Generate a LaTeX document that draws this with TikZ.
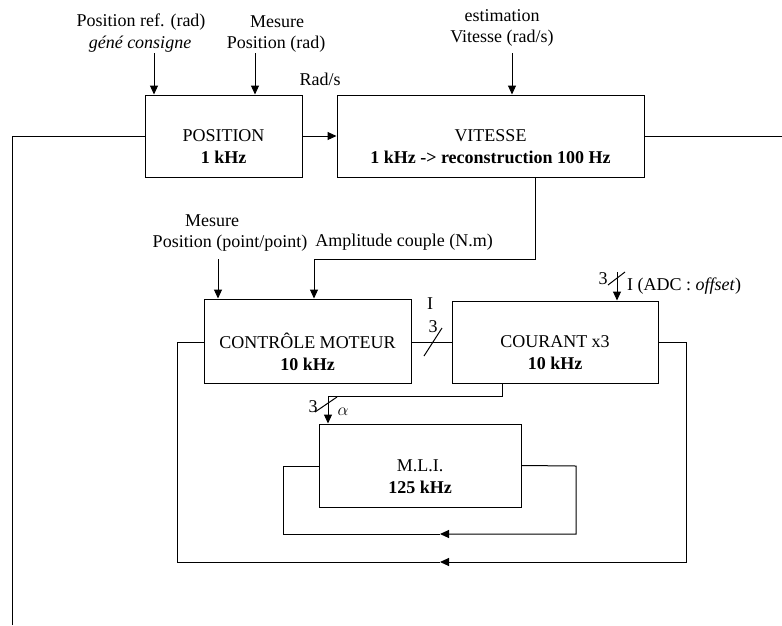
\documentclass[tikz,border=0pt]{standalone}
\usepackage{fontspec}
\setmainfont{Liberation Serif}
\usetikzlibrary{arrows.meta}
\begin{document}
\begin{tikzpicture}[x=1pt,y=-1pt,
  every node/.style={font=\fontsize{18}{22}\selectfont, inner sep=0pt},
  blk/.style={draw, line width=1pt, anchor=center},
  btxt/.style={align=center, anchor=center, yshift=-11pt},
  wire/.style={line width=1pt},
  arr/.style={line width=1pt, -{Triangle[length=9pt,width=8pt]}},
  lbl/.style={anchor=center}]
\useasboundingbox (0,0) rectangle (782,625);

% blocks
\node[blk, minimum width=157pt, minimum height=82pt] (pos) at (223.5,136) {};
\node[blk, minimum width=307pt, minimum height=82pt] (vit) at (490.5,136) {};
\node[blk, minimum width=207pt, minimum height=84pt] (ctl) at (307.5,341) {};
\node[blk, minimum width=206pt, minimum height=82pt] (cou) at (555,342) {};
\node[blk, minimum width=202pt, minimum height=83pt] (mli) at (420,465.5) {};

\node[btxt] (tpos) at (pos.center) {POSITION\\\textbf{1 kHz}};
\node[btxt] (tvit) at (vit.center) {VITESSE\\\textbf{1 kHz -> reconstruction 100 Hz}};
\node[btxt] (tctl) at (ctl.center) {CONTRÔLE MOTEUR\\\textbf{10 kHz}};
\node[btxt] (tcou) at (cou.center) {COURANT x3\\\textbf{10 kHz}};
\node[btxt] (tmli) at (mli.center) {M.L.I.\\\textbf{125 kHz}};

% labels
\node[lbl] (l1a) at (141,22) {Position ref. (rad)};
\node[lbl] (l1b) at (140,44) {\textit{géné consigne}};
\node[lbl] (l2a) at (277,22) {Mesure};
\node[lbl] (l2b) at (276,44) {Position (rad)};
\node[lbl] (l3) at (320,79) {Rad/s};
\node[lbl] (l4a) at (502,16) {estimation};
\node[lbl] (l4b) at (502,38) {Vitesse (rad/s)};
\node[lbl] (l5a) at (212,221) {Mesure};
\node[lbl] (l5b) at (230,243) {Position (point/point)};
\node[lbl] (l6) at (404,242) {Amplitude couple (N.m)};
\node[lbl] (lI) at (430,304) {I};
\node[lbl] (l3a) at (433,327) {3};
\node[lbl] (l3b) at (603,279) {3};
\node[lbl, anchor=west] (ladc) at (627,286) {I (ADC : \textit{offset})};
\node[lbl] (l3c) at (313,407) {3};
\node[lbl] (lal) at (343,412) {$\alpha$};

% coordinates
\coordinate (p1) at (154,53);
\coordinate (p2) at (255,53);
\coordinate (v1) at (512,53);
\coordinate (fbl) at (12,625);
\coordinate (fbr) at (782,136);
\coordinate (va) at (535,259);
\coordinate (vb) at (314,259);
\coordinate (mes) at (218,259);
\coordinate (adc) at (617,272);
\coordinate (ca) at (502,396);
\coordinate (cb) at (328,396);
\coordinate (m1) at (440,562);
\coordinate (m2) at (440,534);

% input arrows
\draw[arr] (p1) -- (p1 |- pos.north);
\draw[arr] (p2) -- (p2 |- pos.north);
\draw[arr] (v1) -- (v1 |- vit.north);
\draw[arr] (pos.east) -- (vit.west);
\draw[wire] (fbl) -- (fbl |- pos.west) -- (pos.west);
\draw[wire] (vit.east) -- (fbr);

% vitesse -> controle
\draw[arr] (va |- vit.south) -- (va) -- (vb) -- (vb |- ctl.north);
\draw[arr] (mes) -- (mes |- ctl.north);

% controle -> courant
\draw[wire] (ctl.east |- cou.west) -- (cou.west);
\draw[wire] (424,356) -- (442,328);

% ADC input
\draw[arr] (adc) -- (adc |- cou.north);
\draw[wire] (608,285) -- (625,272);

% courant -> MLI
\draw[arr] (ca |- cou.south) -- (ca) -- (cb) -- (cb |- mli.north);
\draw[wire] (315,412) -- (337,397);

% outer loop
\draw[arr] (cou.east) -- (686,342) -- (686,562) -- (m1);
\draw[wire] (m1) -- (177,562) -- (177,342) -- (ctl.west |- 177,342);

% inner loop
\draw[arr] (mli.east) -- (576,466) -- (576,534) -- (m2);
\draw[wire] (m2) -- (283,534) -- (283,466) -- (mli.west |- 283,466);
\end{tikzpicture}
\end{document}
